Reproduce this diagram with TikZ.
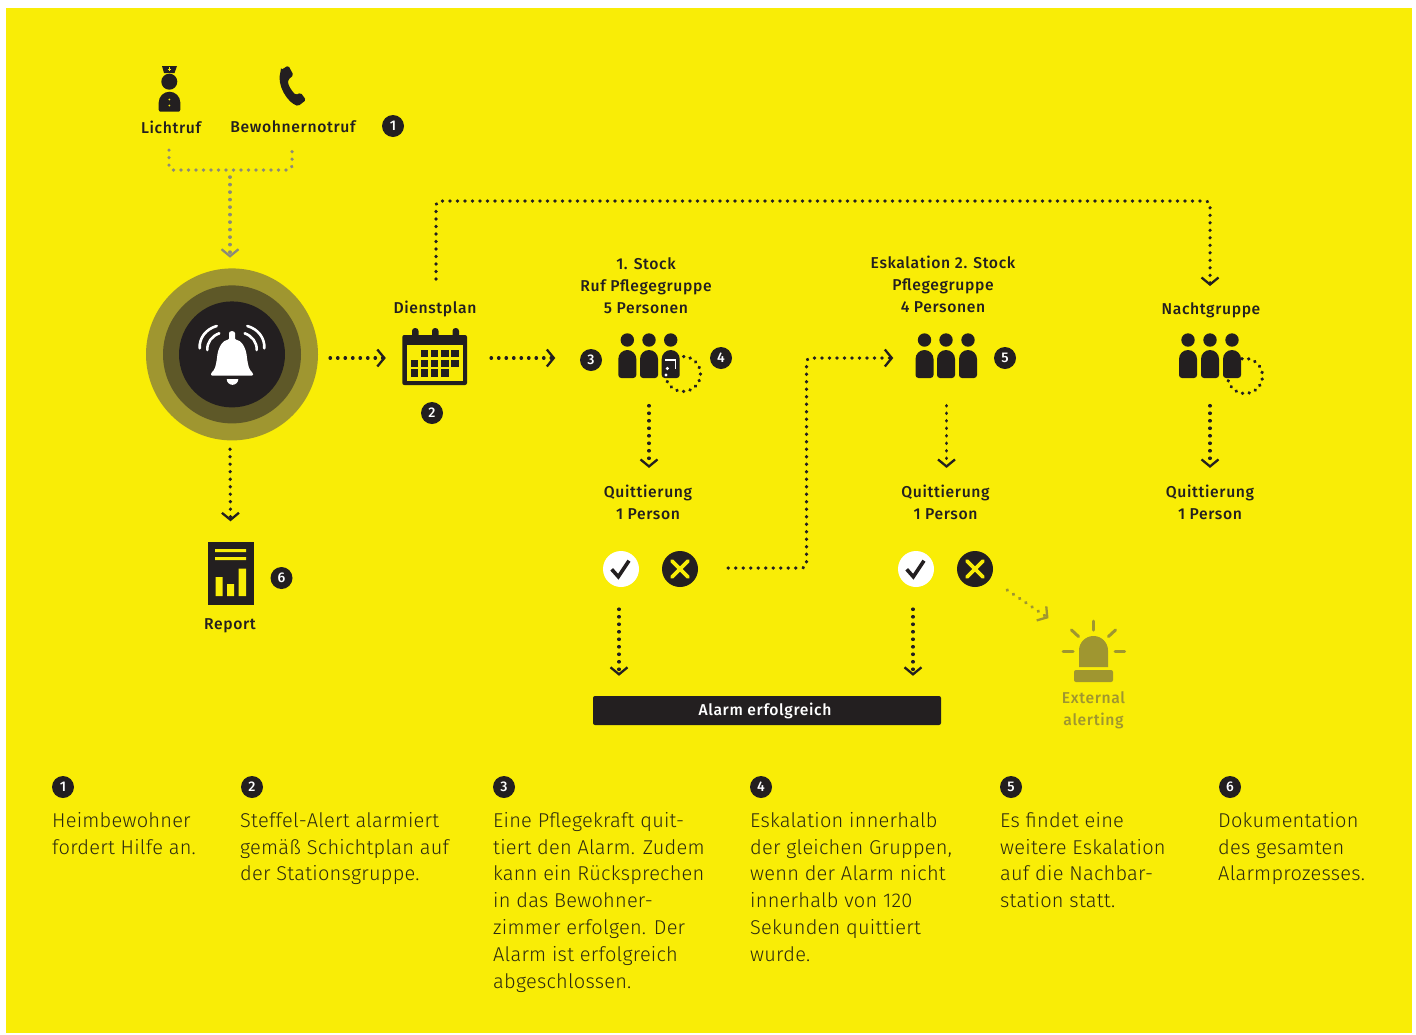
\documentclass[tikz,border=0pt]{standalone}
\usepackage{fontspec}
\setmainfont{Fira Sans}
\newfontfamily\labfont[LetterSpace=4]{Fira Sans Medium}
\newfontfamily\bodyfont[LetterSpace=1.2]{Fira Sans Light}
\usetikzlibrary{arrows.meta}
\definecolor{ink}{HTML}{231F20}
\definecolor{bgyellow}{HTML}{F9ED06}
\definecolor{olive}{HTML}{9F9630}
\definecolor{darkolive}{HTML}{5E5828}
\definecolor{dotgrey}{HTML}{8C8A78}
\definecolor{bodyink}{HTML}{2C2A10}
\tikzset{
  chev/.tip={Straight Barb[length=7pt,width=17pt,line width=2.3pt]},
  flow/.style={draw=ink,line width=3.5pt,line cap=round,dash pattern=on 0.2pt off 7.3pt,-chev,rounded corners=4pt},
  flowplain/.style={flow,-},
  greyflow/.style={flow,draw=dotgrey},
  greyplain/.style={greyflow,-},
  oliveflow/.style={flow,draw=olive},
  lab/.style={font=\labfont\fontsize{15.7}{22}\selectfont,text=ink,align=center,inner sep=0pt},
  body/.style={font=\bodyfont\fontsize{20}{26.8}\selectfont,text=bodyink,align=left,anchor=north west,inner sep=0pt},
  badge/.style={circle,fill=ink,text=white,inner sep=0pt,minimum size=22pt,font=\labfont\fontsize{14}{14}\selectfont},
  okmark/.style={circle,fill=white,inner sep=0pt,minimum size=36pt},
  nomark/.style={circle,fill=ink,inner sep=0pt,minimum size=36pt},
  ray/.style={draw=olive,line width=3pt,line cap=round},
  bellwave/.style={draw=white,line width=2.6pt,line cap=round}
}
\newcommand{\personfig}[2]{%
  \fill[ink] (#1,340) circle[radius=6.7pt];
  \fill[ink] ({#1-9},375) -- ({#1-9},359) arc[start angle=180,end angle=0,radius=9pt] -- ({#1+9},375)
     arc[start angle=0,end angle=-90,radius=3pt] -- ({#1-6},378) arc[start angle=-90,end angle=-180,radius=3pt] -- cycle;}
\newcommand{\okfig}[2]{%
  \draw[ink,line width=3.6pt] ({#1-9.3},{#2+0.3}) -- ({#1-2.7},{#2+7.7}) -- ({#1+8},{#2-8.3});}
\newcommand{\nofig}[2]{%
  \draw[bgyellow,line width=3.6pt,line cap=round] ({#1-8},{#2-8}) -- ({#1+8},{#2+8}) ({#1-8},{#2+8}) -- ({#1+8},{#2-8});}
\begin{document}
\begin{tikzpicture}[x=1pt,y=-1pt]
\useasboundingbox (0,0) rectangle (1416,1034);
\fill[white] (0,0) rectangle (1416,1034);
\fill[bgyellow] (6,8) rectangle (1412,1033);

% top inputs
\node[lab] (licht) at (171,127) {Lichtruf};
\node[lab] (bewo) at (293,127) {Bewohnernotruf};
\node[badge] (b1) at (393,126) {1};
% nurse
\fill[ink] (162,66) -- (177,66) -- (174.5,73) -- (164,73) -- cycle;
\draw[bgyellow,line width=0.8pt] (167.5,69.2) -- (171.1,69.2) (169.3,67.4) -- (169.3,71);
\fill[ink] (169.3,81.7) circle[radius=8pt];
\fill[ink] (158.7,109.7) -- (158.7,102.5) arc[start angle=180,end angle=0,radius=10.8pt] -- (180.3,109.7)
   arc[start angle=0,end angle=-90,radius=2pt] -- (160.7,111.7) arc[start angle=-90,end angle=-180,radius=2pt] -- cycle;
\fill[bgyellow] (169.3,99.5) circle[radius=1pt] (169.3,105.5) circle[radius=1pt];
% phone
\fill[ink,rounded corners=1.6pt] (281,70) -- (288.3,65.5) -- (293.5,75) -- (288,80) .. controls (288,85) and (291,90) .. (295.7,95)
   -- (300.7,92.7) -- (306,100) -- (298.3,106) .. controls (288,103) and (276,85) .. (281,70) -- cycle;

\coordinate (join) at (230,170);
\draw[greyplain] ([xshift=-2pt,yshift=-23pt]licht.center) |- (join) -| ([xshift=-1pt,yshift=-23pt]bewo.center);

% alarm
\node[circle,fill=olive,minimum size=172pt,inner sep=0pt] (alarm) at (232,354.4) {};
\node[circle,fill=darkolive,minimum size=138pt,inner sep=0pt] (alarmmid) at (232,354.4) {};
\node[circle,fill=ink,minimum size=106pt,inner sep=0pt] (alarmcore) at (232,354.4) {};
\fill[white,rounded corners=1pt] (211,375.7) -- (211,373) .. controls (215,370) and (216,365) .. (217,358) .. controls (218,347) and (223,340) .. (229,339.5)
  -- (229,334) arc[start angle=180,end angle=0,radius=3pt] -- (235,339.5) .. controls (241,340) and (246,347) .. (247,358) .. controls (248,365) and (249,370) .. (253,373) -- (253,375.7) -- cycle;
\fill[white] (226.7,379) -- (238.3,379) arc[start angle=0,end angle=-180,radius=5.8pt] -- cycle;
\draw[bellwave] (199.7,348.3) .. controls (199,338) and (206,329) .. (216.7,326);
\draw[bellwave] (207.3,350) .. controls (207,342) and (212,336) .. (219.3,333.3);
\draw[bellwave] (264.3,348.3) .. controls (265,338) and (258,329) .. (247.3,326);
\draw[bellwave] (256.7,350) .. controls (257,342) and (252,336) .. (244.7,333.3);
\draw[greyflow] ([yshift=-7pt]join) -- ([xshift=-2pt,yshift=10.5pt]alarm.north);

% calendar
\node[minimum width=65pt,minimum height=57pt,inner sep=0pt] (cal) at (434.5,356.5) {};
\fill[ink,rounded corners=2pt] (402.3,335) rectangle (467,385);
\fill[ink,rounded corners=3pt] (412,328) rectangle (418.5,340) (432,328) rectangle (438.5,340) (452.5,328) rectangle (459,340);
\fill[bgyellow] (407,345) rectangle (463,381);
\foreach \c/\r in {2/1,3/1,4/1,5/1,1/2,2/2,3/2,4/2,5/2,1/3,2/3,3/3,4/3}{
  \fill[ink] ({411+(\c-1)*10.1},{350+(\r-1)*9.7}) rectangle ++(7.2,7.2);
}
\node[lab] (dienst) at (435,309) {Dienstplan};
\node[badge] (b2) at (432,413) {2};
\draw[flow] ([xshift=12pt,yshift=-3.6pt]alarm.east) -- ([xshift=-16pt,yshift=-1.5pt]cal.west);

% group 1
\node[minimum width=61pt,minimum height=45pt,inner sep=0pt] (g1) at (648.5,356) {};
\personfig{627.3}{}\personfig{649}{}\personfig{670.7}{}
\draw[flowplain,dash pattern=on 0.2pt off 6.5pt] (683,374) ++(88:17.5pt) arc[start angle=88,end angle=-205,radius=17.5pt];
\draw[white,line width=1.6pt] (665,360) -- (675.5,360) -- (675.5,369);
\fill[white] (667.3,368.5) circle[radius=1.7pt] (666,375) circle[radius=1.7pt];
\node[lab] (t1) at (646,285.5) {1. Stock\\Ruf Pflegegruppe\\5 Personen};
\node[badge] (b3) at (591,360) {3};
\node[badge] (b4) at (721,358) {4};
\draw[flow] ([xshift=24pt,yshift=-1.5pt]cal.east) -- ([xshift=-62.5pt,yshift=-2pt]g1.west);

% group 2
\node[minimum width=61pt,minimum height=45pt,inner sep=0pt] (g2) at (946,356) {};
\personfig{924.5}{}\personfig{946}{}\personfig{968}{}
\node[lab] (t2) at (943,284.5) {Eskalation 2. Stock\\Pflegegruppe\\4 Personen};
\node[badge] (b5) at (1005,358) {5};

% group 3
\node[minimum width=61pt,minimum height=45pt,inner sep=0pt] (g3) at (1210,356) {};
\personfig{1188}{}\personfig{1210}{}\personfig{1232}{}
\draw[flowplain,dash pattern=on 0.2pt off 6.5pt] (1245,376) ++(100:17.5pt) arc[start angle=100,end angle=-205,radius=17.5pt];
\node[lab] (t3) at (1211,310) {Nachtgruppe};
\coordinate (topL) at (436,201);
\coordinate (topR) at (1210,201);
\draw[flow] ([xshift=1pt,yshift=30pt]dienst.center) -- (topL) -- (topR) -- ([yshift=24pt]t3.center -| g3.center);

% quittierung
\node[lab] (q1) at (648,502.5) {Quittierung\\1 Person};
\node[lab] (q2) at (945.5,502.5) {Quittierung\\1 Person};
\node[lab] (q3) at (1210,502.5) {Quittierung\\1 Person};
\draw[flow] ([xshift=0.5pt,yshift=-27pt]g1.south) -- ([xshift=1pt,yshift=17pt]q1.north);
\draw[flow] ([xshift=0.5pt,yshift=-27pt]g2.south) -- ([xshift=1pt,yshift=17pt]q2.north);
\draw[flow] ([yshift=-27pt]g3.south) -- ([yshift=17pt]q3.north);

% decisions
\node[okmark] (ok1) at (621,569) {};
\node[nomark] (no1) at (680,569) {};
\node[okmark] (ok2) at (916,569) {};
\node[nomark] (no2) at (975,569) {};
\okfig{621}{569}\nofig{680}{569}\okfig{916}{569}\nofig{975}{569}
\coordinate (escal) at (806.5,460);
\draw[flow] ([xshift=30pt,yshift=1pt]no1.east) -| (escal) |- ([xshift=-22pt,yshift=-2pt]g2.west);

% success bar
\node[fill=ink,rounded corners=2pt,minimum width=348pt,minimum height=29pt,inner sep=0pt,text=white,font=\labfont\fontsize{15.7}{22}\selectfont] (bar) at (767,710.5) {\raisebox{-2.5pt}{Alarm erfolgreich}\kern4pt};
\draw[flow] ([xshift=-2pt,yshift=-22pt]ok1.south) -- ([xshift=-148pt,yshift=20pt]bar.north);
\draw[flow] ([xshift=-3pt,yshift=-22pt]ok2.south) -- ([xshift=146pt,yshift=20pt]bar.north);

% external alerting
\node[lab,text=olive] (ext) at (1093.5,710) {External\\alerting};
\fill[olive] (1079,667) -- (1079,650.5) arc[start angle=180,end angle=0,radius=14.5pt] -- (1108,667) -- cycle;
\fill[olive,rounded corners=2pt] (1074,670) rectangle (1113,682);
\draw[ray] (1093.3,621) -- (1093.3,630);
\draw[ray] (1071.5,630) -- (1078.5,636.5);
\draw[ray] (1115.5,630) -- (1108.5,636.5);
\draw[ray] (1063,651) -- (1073,651);
\draw[ray] (1115,651) -- (1124.5,651);
\draw[oliveflow] ([xshift=14pt,yshift=-21pt]no2.east) -- ([xshift=-45pt,yshift=73pt]ext.north);

% report
\node[minimum width=46pt,minimum height=63pt,inner sep=0pt,fill=ink] (rep) at (230.5,573) {};
\fill[bgyellow] (215,549) rectangle (246,552) (215,557) rectangle (246,560);
\fill[bgyellow] (215.5,577) rectangle (222.5,596) (227,584) rectangle (234,596) (238.7,568.7) rectangle (246,596);
\node[lab] (reptxt) at (230,626) {Report};
\node[badge] (b6) at (281.5,578) {6};
\draw[flow] ([xshift=-2pt,yshift=-8.5pt]alarm.south) -- ([yshift=20pt]rep.north);

% legend
\node[badge] (l1) at (63,787) {1};
\node[badge] (l2) at (252,787) {2};
\node[badge] (l3) at (504,787) {3};
\node[badge] (l4) at (761,787) {4};
\node[badge] (l5) at (1011,787) {5};
\node[badge] (l6) at (1230,787) {6};
\node[body] (d1) at (52,812) {Heimbewohner\\fordert Hilfe an.};
\node[body] (d2) at (240,812) {Steffel-Alert alarmiert\\gemäß Schichtplan auf\\der Stationsgruppe.};
\node[body] (d3) at (493,812) {Eine Pflegekraft quit-\\tiert den Alarm. Zudem\\kann ein Rücksprechen\\in das Bewohner-\\zimmer erfolgen. Der\\Alarm ist erfolgreich\\abgeschlossen.};
\node[body] (d4) at (750,812) {Eskalation innerhalb\\der gleichen Gruppen,\\wenn der Alarm nicht\\innerhalb von 120\\Sekunden quittiert\\wurde.};
\node[body] (d5) at (1000,812) {Es findet eine\\weitere Eskalation\\auf die Nachbar-\\station statt.};
\node[body] (d6) at (1218,812) {Dokumentation\\des gesamten\\Alarmprozesses.};
\end{tikzpicture}
\end{document}
